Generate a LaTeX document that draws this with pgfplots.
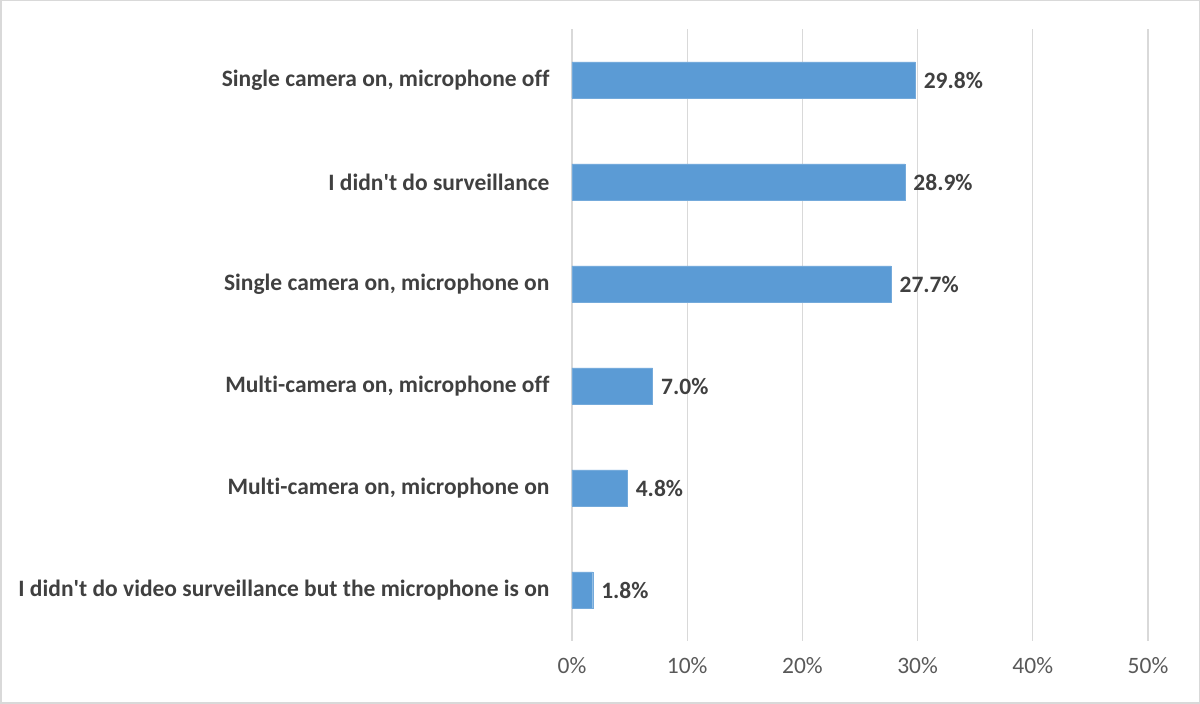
\documentclass[border=0pt]{standalone}
\usepackage{pgfplots}
\pgfplotsset{compat=1.18}
\usepackage{fontspec}
\setmainfont{Carlito}[Ligatures=NoCommon]
\definecolor{barblue}{HTML}{5B9BD5}
\definecolor{lbl}{HTML}{404040}
\definecolor{tck}{HTML}{595959}
\definecolor{grd}{HTML}{D9D9D9}
\newcommand{\fs}{\fontsize{23.5}{27}\selectfont}
\begin{document}
\begin{tikzpicture}[x=1pt,y=1pt]
\useasboundingbox (0,0) rectangle (1200,704);
\draw[grd, line width=1.5pt] (0.75,0.75) rectangle (1199.25,703.25);
\begin{axis}[
  at={(572pt,63pt)}, anchor=south west,
  scale only axis, width=576pt, height=612pt,
  xbar, bar width=36pt,
  xmin=0, xmax=50, ymin=-0.5, ymax=5.5,
  xtick={0,10,20,30,40,50},
  xticklabels={0\%,10\%,20\%,30\%,40\%,50\%},
  ytick={0,1,2,3,4,5},
  yticklabels={{I didn\textquotesingle t do video surveillance but the microphone is on},
    {Multi-camera on, microphone on},
    {Multi-camera on, microphone off},
    {Single camera on, microphone on},
    {I didn\textquotesingle t do surveillance},
    {Single camera on, microphone off}},
  axis line style={draw=none},
  major tick length=0pt,
  /pgf/number format/assume math mode=true,
  xmajorgrids, grid style={grd, line width=1.2pt},
  tick label style={font=\fs},
  xticklabel style={tck, yshift=-13pt},
  yticklabel style={lbl, font=\fs\bfseries, xshift=-19pt},
  nodes near coords={\pgfmathprintnumber[fixed,fixed zerofill,precision=1]{\pgfplotspointmeta}\%},
  nodes near coords style={lbl, font=\fs\bfseries, xshift=5pt},
  point meta=x,
  clip=false,
]
\addplot[fill=barblue, draw=barblue!85!white] coordinates {
  (1.8,0) (4.8,1) (7.0,2) (27.7,3) (28.9,4) (29.8,5)
};
\end{axis}
\end{tikzpicture}
\end{document}
